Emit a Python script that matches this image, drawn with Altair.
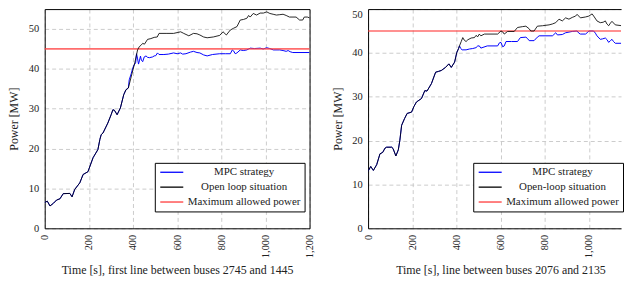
import altair as alt
import pandas as pd

FONT = "Liberation Serif"

# ---------------- data ----------------
x_ticks = [0, 200, 400, 600, 800, 1000, 1200]
y_ticks = [0, 10, 20, 30, 40, 50]
limit = 45

# Left panel: common part (both strategies identical)
l_shared_t = [0, 12, 24, 40, 54, 69, 84, 114, 124, 136, 159, 174, 196, 219, 241, 250, 256, 264,
              286, 301, 309, 316, 328, 343, 358, 368, 379]
l_shared_p = [6.5, 6.8, 5.6, 6.3, 7.1, 7.4, 8.7, 8.75, 7.9, 9.75, 11.4, 13.5, 14.2, 17.7, 19.75, 22.3,
              23.5, 23.9, 26.4, 28.5, 29.75, 29.6, 28.5, 30.2, 33.5, 34.75, 35.2]
l_ol_t = [394, 408, 421, 429, 436, 444, 452, 466, 481, 496, 510, 518, 550, 584, 600, 616, 630, 653,
          674, 690, 703, 720, 736, 764, 793, 808, 823, 841, 856, 871, 886, 901, 916, 924, 931, 945,
          960, 976, 991, 1006, 1020, 1035, 1050, 1065, 1080, 1094, 1109, 1139, 1155, 1169, 1176,
          1190, 1200]
l_ol_p = [38.5, 41.5, 44.8, 45.6, 45.9, 46.4, 46.2, 47.4, 47.6, 47.9, 48.0, 48.9, 48.9, 48.9, 49.1,
          49.3, 48.9, 48.3, 48.9, 48.8, 48.5, 48.0, 47.8, 48.0, 48.4, 49.3, 48.5, 49.75, 50.2, 50.6,
          52.25, 52.4, 52.7, 53.4, 53.0, 53.9, 53.5, 54.0, 54.0, 54.3, 53.9, 53.7, 53.5, 53.6, 53.7,
          53.4, 53.0, 53.0, 52.25, 52.25, 53.0, 53.0, 52.8]
l_mpc_t = [383, 392, 399, 405, 412, 416, 421, 425, 429, 434, 438, 444, 451, 459, 466, 474, 489, 496,
           503, 511, 518, 540, 560, 584, 600, 616, 625, 640, 660, 674, 690, 703, 720, 736, 760, 793,
           820, 841, 850, 856, 863, 871, 886, 900, 916, 931, 950, 976, 990, 1006, 1020, 1036, 1065,
           1080, 1094, 1103, 1112, 1124, 1200]
l_mpc_p = [37.25, 38.8, 40.2, 41.0, 41.5, 43.8, 42.5, 41.2, 42.0, 43.2, 42.2, 41.8, 43.0, 43.25, 42.9,
           42.8, 43.0, 43.25, 43.3, 44.0, 43.6, 43.6, 43.7, 44.0, 43.8, 44.0, 43.7, 43.8, 44.2, 44.4,
           44.1, 44.0, 43.5, 43.25, 43.6, 43.8, 43.8, 43.8, 44.75, 44.5, 43.8, 44.0, 44.75, 44.6,
           44.75, 45.2, 45.1, 45.2, 45.0, 45.3, 45.1, 44.75, 44.75, 44.6, 44.4, 44.6, 44.3, 44.1, 44.1]

# Right panel
r_shared_t = [0, 12, 24, 39, 54, 66, 77, 84, 107, 113, 126, 137, 144, 152, 165, 177, 197, 208, 219,
              242, 257, 267, 287, 306, 320, 332, 351, 366, 377, 392, 402, 410]
r_shared_p = [13.0, 14.1, 13.2, 14.5, 17.0, 17.3, 18.3, 18.5, 18.5, 18.2, 16.5, 17.9, 20.1, 23.5,
              25.0, 26.2, 26.5, 27.8, 28.8, 29.6, 31.4, 31.3, 33.0, 35.6, 35.8, 36.0, 36.7, 37.5,
              36.7, 37.9, 40.1, 41.0]
r_ol_t = [414, 422, 429, 436, 444, 452, 467, 482, 489, 497, 504, 511, 527, 587, 602, 610, 617, 632,
          662, 677, 700, 715, 730, 737, 752, 767, 790, 820, 835, 850, 865, 880, 895, 910, 925, 940,
          947, 962, 985, 1000, 1015, 1025, 1037, 1052, 1065, 1075, 1082, 1090, 1098, 1105, 1120,
          1150, 1187, 1200]
r_ol_p = [41.6, 42.6, 43.5, 42.9, 42.6, 43.0, 43.4, 43.5, 44.0, 43.7, 44.3, 43.9, 44.3, 44.3, 45.0,
          44.8, 44.3, 44.9, 44.9, 45.8, 46.0, 46.1, 45.5, 45.0, 45.0, 46.1, 46.2, 46.4, 46.6, 46.9,
          47.7, 47.3, 48.0, 47.7, 48.1, 48.4, 48.8, 48.0, 48.2, 48.4, 48.9, 48.2, 47.3, 46.9, 47.0,
          47.3, 46.6, 46.2, 46.8, 47.2, 46.4, 46.2, 46.0, 46.2]
r_mpc_t = [414, 420, 426, 444, 460, 474, 489, 497, 504, 511, 540, 587, 595, 602, 610, 617, 625, 650,
           677, 690, 715, 722, 730, 752, 767, 775, 835, 842, 850, 858, 880, 895, 925, 947, 955, 962,
           985, 995, 1000, 1022, 1030, 1037, 1052, 1062, 1075, 1083, 1090, 1098, 1105, 1112, 1120,
           1200]
r_mpc_p = [41.6, 41.0, 40.7, 40.7, 40.9, 41.0, 41.2, 41.6, 41.6, 41.1, 41.6, 41.6, 42.3, 42.4, 41.4,
           41.6, 42.6, 42.6, 42.6, 43.5, 43.6, 43.3, 42.8, 42.8, 43.6, 43.9, 43.9, 44.2, 44.6, 44.1,
           44.2, 44.6, 44.9, 45.0, 44.5, 44.3, 44.3, 44.7, 45.0, 45.0, 44.5, 43.9, 43.1, 43.2, 43.4,
           43.0, 42.4, 42.8, 43.1, 42.6, 42.2, 42.2]

left_labels = ["MPC strategy", "Open loop situation", "Maximum allowed power"]
right_labels = ["MPC strategy", "Open-loop situation", "Maximum allowed power"]
colors = ["#0000ff", "#000000", "#ff3c3c"]
left_xtitle = "Time [s], first line between buses 2745 and 1445"
right_xtitle = "Time [s], line between buses 2076 and 2135"
y_title = "Power [MW]"

FRAME = dict(labels=False, ticks=False, grid=False, title=None, domain=True,
             domainColor="#000", domainWidth=1)
GRID = dict(grid=True, gridDash=[4, 3], gridColor="#c6c6c6", gridWidth=0.9)


def panel(sh_t, sh_p, mpc_t, mpc_p, ol_t, ol_p, labels, ymax, xmax, width, xtitle,
          right_frame, legend_x, flush_top):
    mpc_df = pd.DataFrame({"t": sh_t + mpc_t, "P": sh_p + mpc_p, "series": labels[0]})
    ol_df = pd.DataFrame({"t": sh_t + ol_t, "P": sh_p + ol_p, "series": labels[1]})
    lim_df = pd.DataFrame({"P": [limit], "series": [labels[2]]})

    ybase = "middle"
    if flush_top:
        ybase = {"condition": {"test": f"datum.value >= {ymax}", "value": "top"}, "value": "middle"}

    xs = alt.Scale(domain=[0, xmax], nice=False)
    ys = alt.Scale(domain=[0, ymax], nice=False)
    x_main = alt.X("t:Q", scale=xs,
                   axis=alt.Axis(values=x_ticks, format=",d", labelAngle=270, labelAlign="right",
                                 labelBaseline="middle", labelPadding=6, titlePadding=7,
                                 title=xtitle, titleX=133.5, titleAlign="center", **GRID))
    y_main = alt.Y("P:Q", scale=ys,
                   axis=alt.Axis(values=y_ticks, labelPadding=6, titlePadding=7.5, title=y_title,
                                 labelBaseline=ybase, **GRID))
    x_top = alt.X("t:Q", scale=xs, axis=alt.Axis(orient="top", **FRAME))
    if right_frame:
        y_right = alt.Y("P:Q", scale=ys, axis=alt.Axis(orient="right", **FRAME))
    else:
        y_right = alt.Y("P:Q", scale=ys, axis=None)

    color = alt.Color("series:N", scale=alt.Scale(domain=labels, range=colors),
                      legend=alt.Legend(title=None, orient="none", legendX=legend_x, legendY=155,
                                        symbolType="M-1,0H4.8", symbolSize=64,
                                        symbolStrokeWidth=1.3, symbolOpacity=1,
                                        labelAlign="center",
                                        labelOffset=75, labelFont=FONT, labelFontSize=11,
                                        labelColor="#222", rowPadding=3, padding=4,
                                        strokeColor="#000", fillColor="white"))

    rule = alt.Chart(lim_df).mark_rule(strokeWidth=1.7, opacity=0.75).encode(
        y=alt.Y("P:Q", scale=ys, axis=None), color=color)
    mpc = alt.Chart(mpc_df).mark_line(strokeWidth=1, clip=True).encode(
        x=x_main, y=y_main, color=color)
    ol = alt.Chart(ol_df).mark_line(strokeWidth=1, opacity=0.85, clip=True).encode(
        x=x_top, y=y_right, color=color)
    return (alt.layer(mpc, rule, ol)
            .resolve_axis(x="independent", y="independent")
            .properties(width=width, height=221))


left = panel(l_shared_t, l_shared_p, l_mpc_t, l_mpc_p, l_ol_t, l_ol_p, left_labels, 55, 1200, 267,
             left_xtitle, True, 111, False)
right = panel(r_shared_t, r_shared_p, r_mpc_t, r_mpc_p, r_ol_t, r_ol_p, right_labels, 50, 1146, 255,
              right_xtitle, False, 106, True)

chart = (
    alt.hconcat(left, right, spacing=16)
    .resolve_scale(x="independent", y="independent", color="independent")
    .properties(padding={"left": 0, "top": 0, "right": 0, "bottom": 0})
    .configure_view(strokeWidth=0, stroke=None)
    .configure_axis(domain=True, domainColor="#000", domainWidth=1, ticks=False, tickSize=0,
                    labelFont=FONT, labelFontSize=10.5, labelColor="#222",
                    titleFont=FONT, titleFontSize=12, titleFontWeight="normal", titleColor="#222")
)

chart.save("out.html", embed_options={"renderer": "svg", "actions": False})
